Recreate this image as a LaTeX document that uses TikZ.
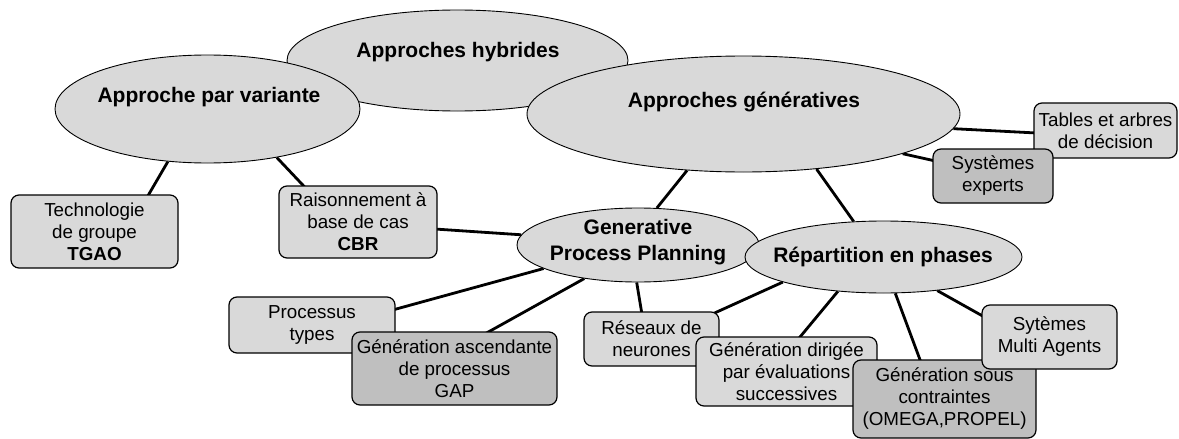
\documentclass[tikz,border=0pt]{standalone}
\usepackage{fontspec}
\setmainfont{Liberation Sans}
\usetikzlibrary{shapes.geometric,backgrounds}
\definecolor{lightfill}{gray}{0.85}
\definecolor{darkfill}{gray}{0.75}
\tikzset{
  oval/.style={ellipse, draw=black, line width=0.9pt, fill=lightfill, inner sep=0pt},
  ovaltext/.style={font=\fontsize{21}{26}\selectfont\bfseries, align=center, inner sep=0pt},
  box/.style={rectangle, rounded corners=8pt, draw=black, line width=1.2pt, fill=lightfill,
              inner sep=0pt, align=center, font=\fontsize{18.8}{22}\selectfont},
  darkbox/.style={box, fill=darkfill},
  link/.style={line width=2.8pt, draw=black},
}
\begin{document}
\begin{tikzpicture}[x=1pt,y=-1pt]
\useasboundingbox (0,0) rectangle (1179,439);

% ellipses
\node[oval, minimum width=341pt, minimum height=101pt] (hyb) at (457.5,60.5) {};
\node[ovaltext] (hybt) at (458,52) {Approches hybrides};
\node[oval, minimum width=305pt, minimum height=108pt] (var) at (207.5,109) {};
\node[ovaltext] (vart) at (209,97) {Approche par variante};
\node[oval, minimum width=433pt, minimum height=116pt] (gen) at (743.5,114) {};
\node[ovaltext] (gent) at (744,102) {Approches génératives};
\node[oval, minimum width=242pt, minimum height=74pt] (gpp) at (638,245) {};
\node[ovaltext] (gppt) at (638,242) {Generative\\Process Planning};
\node[oval, minimum width=277pt, minimum height=72pt] (rep) at (883.5,257) {};
\node[ovaltext] (rept) at (883,257) {Répartition en phases};

% boxes
\node[box, minimum width=167pt, minimum height=73pt] (tech) at (94.5,231.5) {Technologie\\de groupe\\\textbf{TGAO}};
\node[box, minimum width=158pt, minimum height=72pt] (rai) at (358,222) {Raisonnement à\\base de cas\\\textbf{CBR}};
\node[box, minimum width=166pt, minimum height=56pt] (ptyp) at (312,325) {Processus\\types};
\node[darkbox, minimum width=205pt, minimum height=73pt] (gap) at (454.5,368.5) {Génération ascendante\\de processus\\GAP};
\node[box, minimum width=135pt, minimum height=54pt] (res) at (651.5,339) {Réseaux de\\neurones};
\node[box, minimum width=181pt, minimum height=69pt] (dir) at (786.5,371.5) {Génération dirigée\\par évaluations\\successives};
\node[darkbox, minimum width=183pt, minimum height=78pt] (con) at (944.5,399) {Génération sous\\contraintes\\(OMEGA,PROPEL)};
\node[box, minimum width=135pt, minimum height=64pt] (mas) at (1049.5,337) {Sytèmes\\Multi Agents};
\node[box, minimum width=143pt, minimum height=55pt] (tab) at (1105.5,130.5) {Tables et arbres\\de décision};
\node[darkbox, minimum width=120pt, minimum height=54pt] (exp) at (993,176) {Systèmes\\experts};

% connectors
\begin{scope}[on background layer]
  \draw[link] (var.233.3) -- ([xshift=52.5pt,yshift=-3pt]tech.north);
  \draw[link] (var.325.4) -- ([xshift=-52pt,yshift=-3pt]rai.north);
  \draw[link] (gen.356.8) -- ([xshift=3pt,yshift=-2.5pt]tab.west);
  \draw[link] (gen.346.4) -- ([xshift=3pt,yshift=15pt]exp.west);
  \draw[link] (gen.225.3) -- (gpp.63.4);
  \draw[link] (gen.323.7) -- (rep.130.4);
  \draw[link] ([xshift=-3pt,yshift=-7pt]rai.east) -- (gpp.175.3);
  \draw[link] (gpp.194.5) -- ([xshift=-3pt,yshift=15pt]ptyp.east);
  \draw[link] (gpp.212.4) -- ([xshift=29.5pt,yshift=-3pt]gap.north);
  \draw[link] (gpp.268.5) -- ([xshift=-9.5pt,yshift=-3pt]res.north);
  \draw[link] (rep.194.2) -- ([xshift=60pt,yshift=-3pt]res.north);
  \draw[link] (rep.217.2) -- ([xshift=11.5pt,yshift=-3pt]dir.north);
  \draw[link] (rep.288.2) -- ([xshift=-23.5pt,yshift=-3pt]con.north);
  \draw[link] (rep.328.2) -- ([xshift=3pt,yshift=20pt]mas.west);
\end{scope}
\end{tikzpicture}
\end{document}
